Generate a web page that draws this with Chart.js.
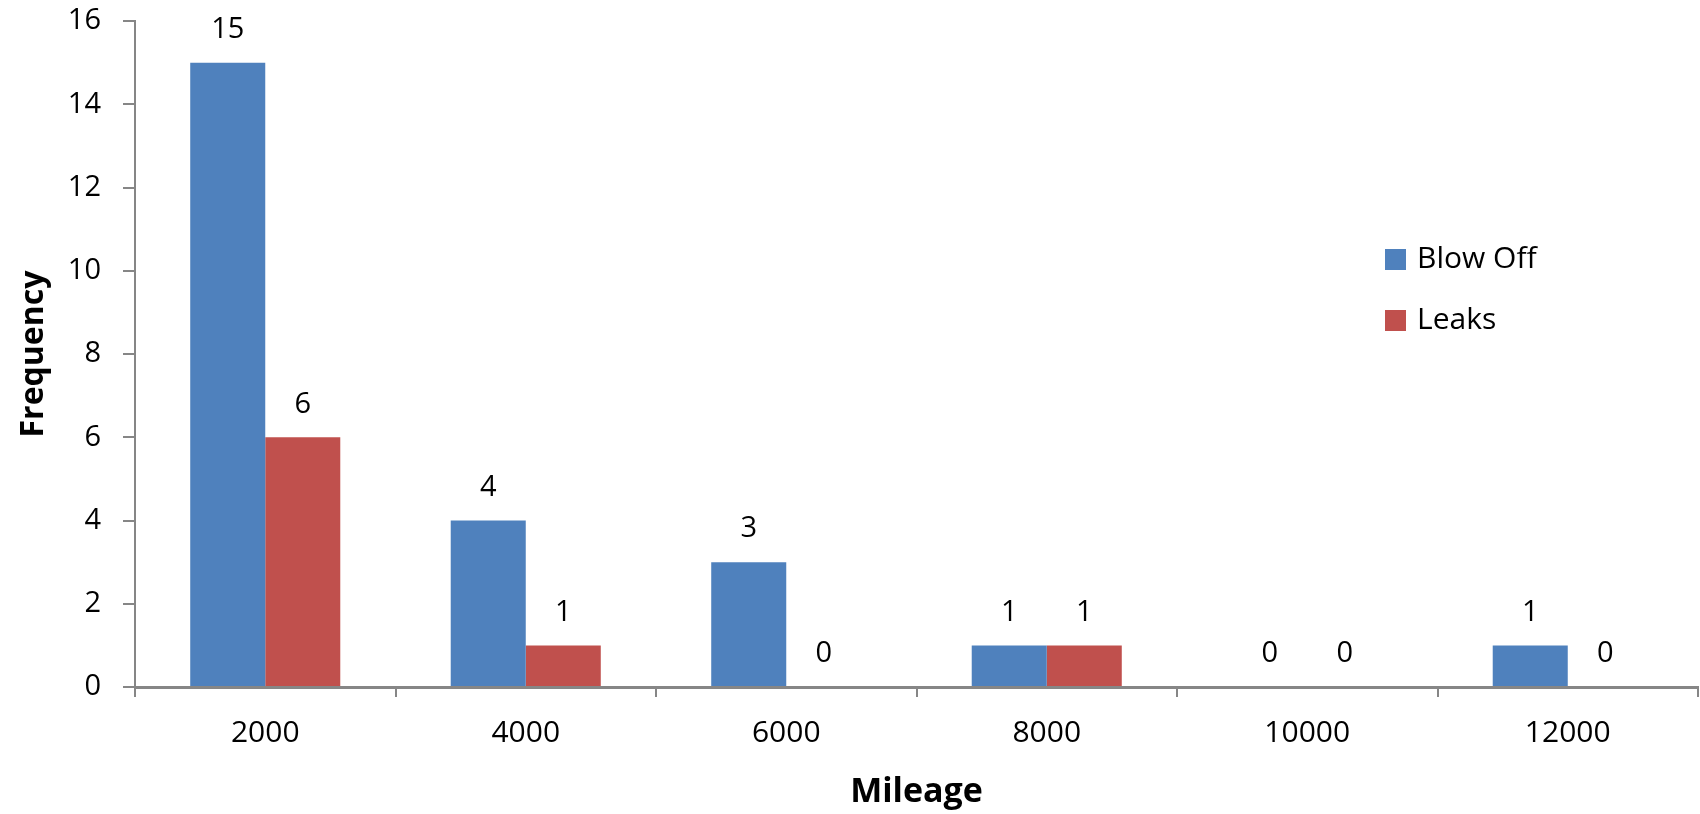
<!DOCTYPE html>
<html>
<head>
<meta charset="utf-8">
<script src="https://cdn.jsdelivr.net/npm/chart.js@4"></script>
<style>
  body { margin: 0; background: #fff; }
  #wrap { width: 1700px; height: 814px; position: relative; }
</style>
</head>
<body>
<div id="wrap"><canvas id="chart"></canvas></div>
<script>
// Data
const mileage = ['2000', '4000', '6000', '8000', '10000', '12000'];
const blowOff = [15, 4, 3, 1, 0, 1];
const leaks = [6, 1, 0, 1, 0, 0];
const yTicks = [0, 2, 4, 6, 8, 10, 12, 14, 16];

const FONT = '"Open Sans", "DejaVu Sans", sans-serif';
const AXIS_GREY = '#868686';

// Value labels above each bar (zeros included)
const valueLabels = {
    id: 'valueLabels',
    afterDatasetsDraw(chart) {
        const ctx = chart.ctx;
        ctx.save();
        ctx.font = '29px ' + FONT;
        ctx.fillStyle = '#000';
        ctx.textAlign = 'center';
        ctx.textBaseline = 'middle';
        chart.data.datasets.forEach((ds, i) => {
            chart.getDatasetMeta(i).data.forEach((bar, j) => {
                ctx.fillText(String(ds.data[j]), bar.x, bar.y - 33);
            });
        });
        ctx.restore();
    }
};

// Legend drawn inside the plot, stacked on the right
const sideLegend = {
    id: 'sideLegend',
    afterDraw(chart) {
        const ctx = chart.ctx;
        const area = chart.chartArea;
        const x = area.right - 313;
        let y = 259;
        ctx.save();
        ctx.font = '30px ' + FONT;
        ctx.textBaseline = 'middle';
        ctx.textAlign = 'left';
        chart.data.datasets.forEach(ds => {
            ctx.fillStyle = ds.backgroundColor;
            ctx.fillRect(x, y - 10, 21, 21);
            ctx.fillStyle = '#000';
            ctx.fillText(ds.label, x + 32, y);
            y += 61;
        });
        ctx.restore();
    }
};

new Chart(document.getElementById('chart'), {
    type: 'bar',
    data: {
        labels: mileage,
        datasets: [
            { label: 'Blow Off', data: blowOff, backgroundColor: '#4F81BD', borderWidth: 0 },
            { label: 'Leaks', data: leaks, backgroundColor: '#C0504D', borderWidth: 0 }
        ]
    },
    options: {
        responsive: true,
        maintainAspectRatio: false,
        animation: false,
        layout: { padding: { top: 21, right: 2, left: 0, bottom: 0 } },
        datasets: {
            bar: { categoryPercentage: 0.576, barPercentage: 1.0 }
        },
        plugins: {
            legend: { display: false },
            tooltip: { enabled: false }
        },
        scales: {
            x: {
                grid: {
                    drawOnChartArea: false,
                    drawTicks: true,
                    tickLength: 10,
                    color: AXIS_GREY,
                    lineWidth: 2,
                    offset: true
                },
                border: { display: true, color: AXIS_GREY, width: 3 },
                ticks: {
                    color: '#000',
                    font: { family: FONT, size: 30 },
                    padding: 18,
                    maxRotation: 0
                },
                title: {
                    display: true,
                    text: 'Mileage',
                    color: '#000',
                    font: { family: FONT, size: 34, weight: 'bold' },
                    padding: { top: 0, bottom: 1 }
                },
                afterFit(scale) { scale.height = 127; }
            },
            y: {
                min: 0,
                max: 16,
                afterBuildTicks(scale) {
                    scale.ticks = yTicks.map(v => ({ value: v }));
                },
                grid: {
                    drawOnChartArea: false,
                    drawTicks: true,
                    tickLength: 12,
                    color: AXIS_GREY,
                    lineWidth: 2
                },
                border: { display: true, color: AXIS_GREY, width: 2 },
                ticks: {
                    color: '#000',
                    font: { family: FONT, size: 29 },
                    padding: 22
                },
                title: {
                    display: true,
                    text: 'Frequency',
                    color: '#000',
                    font: { family: FONT, size: 32, weight: 'bold' },
                    padding: { top: 15, bottom: 0 }
                },
                afterFit(scale) {
                    scale.width = 135;
                    scale.paddingTop = 0;
                    scale.paddingBottom = 0;
                }
            }
        }
    },
    plugins: [valueLabels, sideLegend]
});
</script>
</body>
</html>
